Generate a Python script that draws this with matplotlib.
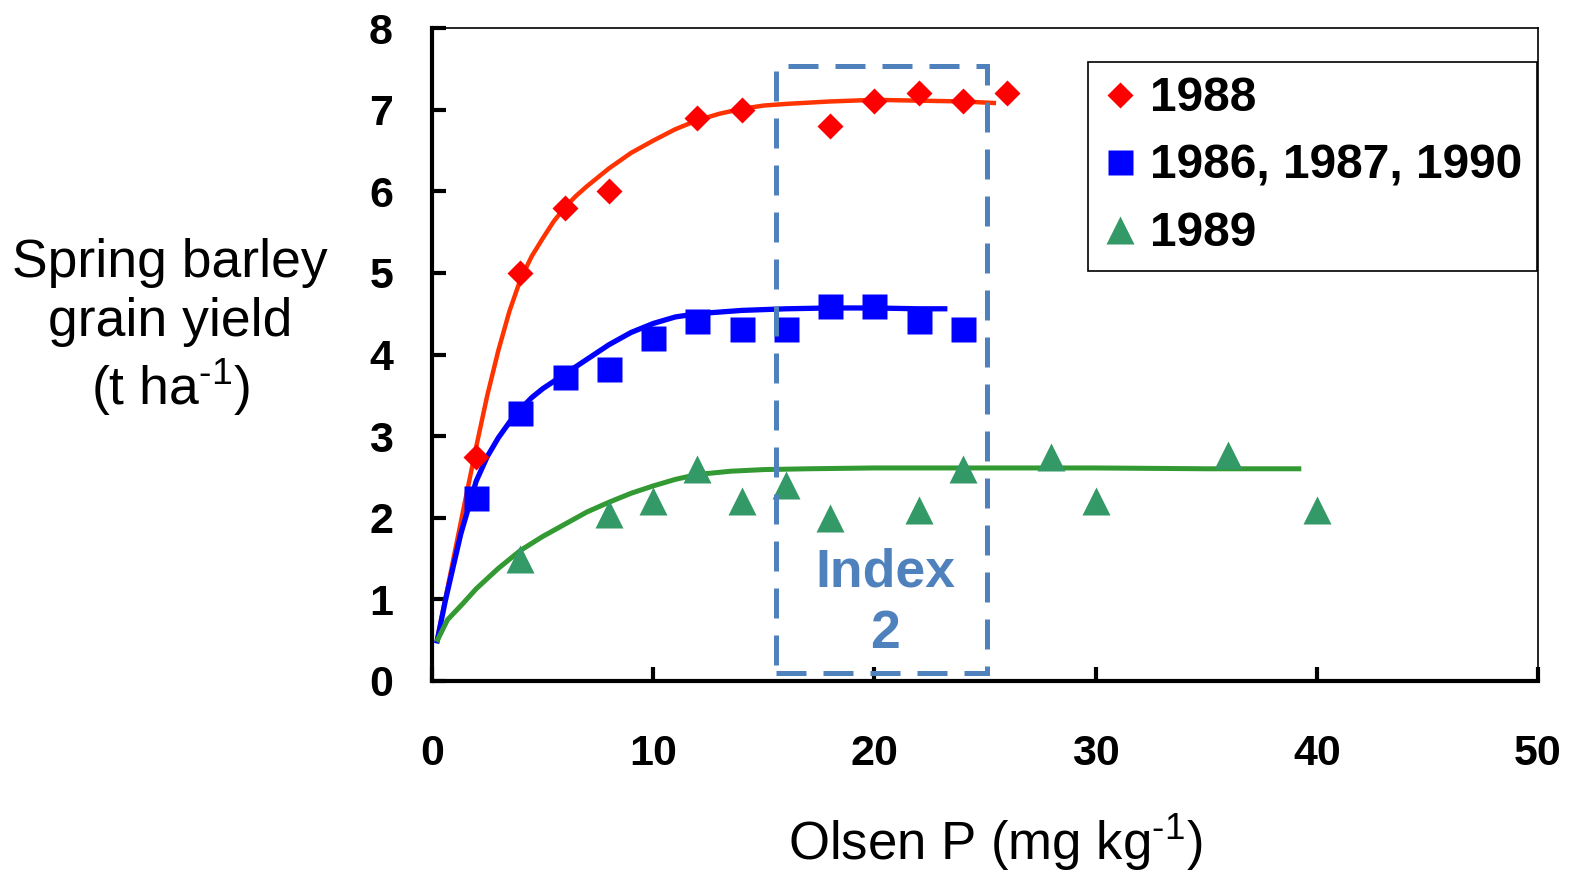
import matplotlib
matplotlib.use("Agg")
import matplotlib.pyplot as plt
from matplotlib.patches import Rectangle
from matplotlib.lines import Line2D

plt.rcParams['font.family'] = ['Liberation Sans', 'DejaVu Sans']
plt.rcParams['mathtext.fontset'] = 'custom'
plt.rcParams['mathtext.rm'] = 'Liberation Sans'
plt.rcParams['mathtext.it'] = 'Liberation Sans'
plt.rcParams['mathtext.default'] = 'regular'

# Observed yields (t/ha) against Olsen P (mg/kg)
p_1988 = [2, 4, 6, 8, 12, 14, 18, 20, 22, 24, 26]
y_1988 = [2.75, 5.0, 5.8, 6.0, 6.9, 7.0, 6.8, 7.1, 7.2, 7.1, 7.2]

p_868790 = [2, 4, 6, 8, 10, 12, 14, 16, 18, 20, 22, 24]
y_868790 = [2.24, 3.28, 3.72, 3.82, 4.2, 4.41, 4.31, 4.31, 4.6, 4.6, 4.41, 4.31]

p_1989 = [4, 8, 10, 12, 14, 16, 18, 22, 24, 28, 30, 36, 40]
y_1989 = [1.5, 2.05, 2.2, 2.6, 2.2, 2.4, 2.0, 2.1, 2.6, 2.75, 2.2, 2.77, 2.1]

# Fitted response curves
fit_p_1988 = [0.21, 0.6, 1.0, 1.5, 2.0, 2.5, 3.0, 3.5, 4.0, 4.5, 5.0, 5.5, 6.0, 6.5, 7.0,
              7.5, 8.0, 9.0, 10.0, 11.0, 12.0, 13.0, 14.0, 15.0, 16.0, 18.0, 20.0, 22.0,
              24.0, 25.5]
fit_y_1988 = [0.48, 1.0, 1.54, 2.21, 2.87, 3.5, 4.05, 4.53, 4.92, 5.2, 5.42, 5.63, 5.8,
              5.94, 6.06, 6.17, 6.28, 6.47, 6.62, 6.76, 6.87, 6.95, 7.01, 7.05, 7.07, 7.1,
              7.12, 7.11, 7.1, 7.08]

fit_p_868790 = [0.21, 0.6, 1.0, 1.3, 1.57, 2.0, 2.5, 3.0, 3.5, 4.0, 4.5, 5.0, 6.0, 7.0,
                8.0, 9.0, 10.0, 11.0, 12.0, 13.0, 14.0, 16.0, 18.0, 20.0, 22.0, 23.3]
fit_y_868790 = [0.46, 0.98, 1.45, 1.8, 2.05, 2.45, 2.75, 2.98, 3.17, 3.33, 3.47, 3.58,
                3.76, 3.94, 4.12, 4.27, 4.38, 4.46, 4.5, 4.52, 4.54, 4.56, 4.57, 4.57,
                4.56, 4.56]

fit_p_1989 = [0.21, 0.7, 1.4, 2.0, 3.0, 4.0, 5.0, 6.0, 7.0, 8.0, 9.0, 10.0, 11.0, 12.0,
              13.5, 15.0, 17.0, 20.0, 25.0, 30.0, 35.0, 39.3]
fit_y_1989 = [0.48, 0.75, 0.95, 1.13, 1.38, 1.6, 1.77, 1.92, 2.07, 2.19, 2.3, 2.39, 2.47,
              2.53, 2.57, 2.59, 2.6, 2.61, 2.61, 2.61, 2.6, 2.6]

# Critical Olsen P range (index 2)
index2_p = [15.55, 25.1]
index2_y = [0.1, 7.53]

x_ticks = [0, 10, 20, 30, 40, 50]
y_ticks = [0, 1, 2, 3, 4, 5, 6, 7, 8]

fig = plt.figure(figsize=(15.7, 8.77), dpi=100)
ax = fig.add_axes([432 / 1570, 1 - 681 / 877, 1106 / 1570, 653 / 877])

ax.plot(fit_p_1988, fit_y_1988, color='#FF3300', lw=3.2, solid_capstyle='butt',
        solid_joinstyle='round', zorder=3)
ax.plot(fit_p_868790, fit_y_868790, color='#0000FF', lw=3.8, solid_capstyle='butt',
        solid_joinstyle='round', zorder=3)
ax.plot(fit_p_1989, fit_y_1989, color='#339933', lw=3.6, solid_capstyle='butt',
        solid_joinstyle='round', zorder=3)

ax.plot(p_1988, y_1988, ls='none', marker='D', ms=13.5, color='#FF0000', mec='none', zorder=4)
ax.plot(p_868790, y_868790, ls='none', marker='s', ms=18, color='#0000FF', mec='none', zorder=4)
ax.plot(p_1989, y_1989, ls='none', marker='^', ms=19.5, color='#339966', mec='none', zorder=4)

box = Rectangle((index2_p[0], index2_y[0]), index2_p[1] - index2_p[0],
                index2_y[1] - index2_y[0], fill=False, edgecolor='#4F81BD',
                lw=3.6, linestyle=(0, (6, 3.4)), zorder=5)
ax.add_patch(box)
ax.text(sum(index2_p) / 2 + 0.15, 0.95, 'Index\n2', ha='center', va='center',
        fontsize=38.5, fontweight='bold', color='#4F81BD', linespacing=1.3, zorder=5)

ax.set_xlim(0, 50)
ax.set_ylim(0, 8)
ax.set_xticks(x_ticks)
ax.set_yticks(y_ticks)
ax.set_xticklabels([str(v) for v in x_ticks], fontsize=31, fontweight='bold')
ax.set_yticklabels([str(v) for v in y_ticks], fontsize=31, fontweight='bold')
ax.tick_params(axis='x', direction='in', length=10, width=3, pad=38)
ax.tick_params(axis='y', direction='in', length=10, width=3, pad=28)

for side in ('left', 'bottom'):
    ax.spines[side].set_linewidth(3)
for side in ('top', 'right'):
    ax.spines[side].set_linewidth(1.2)

handles = [
    Line2D([], [], ls='none', marker='D', ms=13.5, color='#FF0000', mec='none'),
    Line2D([], [], ls='none', marker='s', ms=18, color='#0000FF', mec='none'),
    Line2D([], [], ls='none', marker='^', ms=19.5, color='#339966', mec='none'),
]
leg = ax.legend(handles, ['1988', '1986, 1987, 1990', '1989'],
                loc='upper left', bbox_to_anchor=(0.593, 0.948), borderaxespad=0,
                prop={'size': 34.5, 'weight': 'bold'}, frameon=True, fancybox=False,
                edgecolor='black', framealpha=1, borderpad=0.3, handlelength=0.74,
                handletextpad=0.26, labelspacing=0.47)
leg.get_frame().set_linewidth(1.2)

fig.text(170 / 1570, 1 - 328 / 877, 'Spring barley\ngrain yield\n(t ha$^{\\text{-}1}$)',
         ha='center', va='center', multialignment='center', fontsize=38.5, linespacing=1.22)
fig.text(995 / 1570, 1 - 843 / 877, 'Olsen P (mg kg$^{\\text{-}1}$)',
         ha='center', va='center', fontsize=38)

fig.savefig('out.png', dpi=100)
